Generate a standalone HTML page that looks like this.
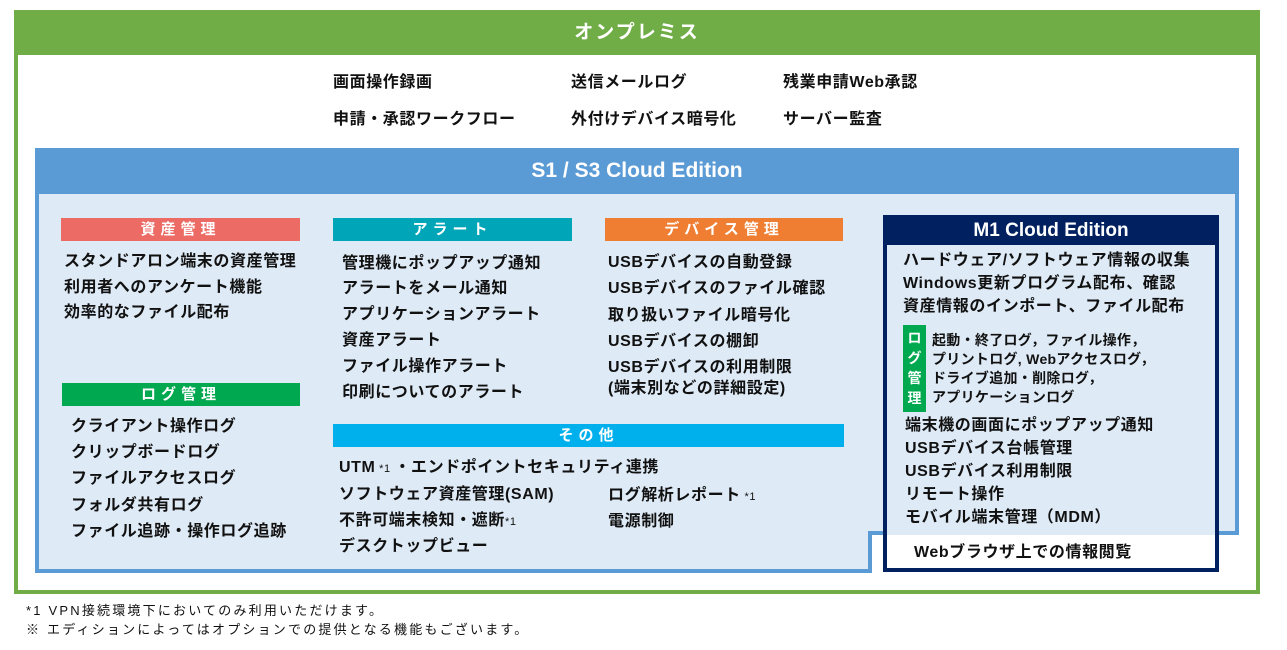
<!DOCTYPE html>
<html><head><meta charset="utf-8"><style>
*{margin:0;padding:0;box-sizing:border-box}
body{width:1287px;height:650px;background:#fff;position:relative;overflow:hidden;font-family:"Liberation Sans","Noto Sans CJK JP",sans-serif;color:#111}
.a{position:absolute;white-space:nowrap}
.t{position:absolute;white-space:nowrap;font-size:16px;font-weight:bold;line-height:26px;letter-spacing:0.6px}
.h{position:absolute;color:#fff;font-weight:bold;font-size:15px;text-align:center;line-height:23px;height:23px;letter-spacing:5px}
</style></head><body>
<div class="a" style="left:14px;top:10px;width:1246px;height:584px;border:4px solid #70ad47"></div>
<div class="a" style="left:14px;top:10px;width:1246px;height:45px;background:#70ad47;color:#fff;font-weight:bold;font-size:19px;text-align:center;line-height:45px;letter-spacing:2px">オンプレミス</div>
<div class="t" style="left:333px;top:70px">画面操作録画</div>
<div class="t" style="left:571px;top:70px">送信メールログ</div>
<div class="t" style="left:783px;top:70px">残業申請Web承認</div>
<div class="t" style="left:333px;top:107px">申請・承認ワークフロー</div>
<div class="t" style="left:571px;top:107px">外付けデバイス暗号化</div>
<div class="t" style="left:783px;top:107px">サーバー監査</div>
<svg class="a" style="left:0;top:0" width="1287" height="650">
<polygon points="37,150 1237,150 1237,533 870,533 870,571 37,571" fill="#deeaf6" stroke="#5b9bd5" stroke-width="4"/>
<rect x="35" y="148" width="1204" height="46" fill="#5b9bd5"/>
<rect x="885" y="217" width="332" height="353" fill="#deeaf6" stroke="#002060" stroke-width="4"/>
<rect x="887" y="535" width="328" height="33" fill="#fff"/>
<line x1="868" y1="533" x2="883" y2="533" stroke="#5b9bd5" stroke-width="4"/>
<line x1="1219" y1="533" x2="1239" y2="533" stroke="#5b9bd5" stroke-width="4"/>
<rect x="883" y="215" width="336" height="30" fill="#002060"/>
</svg>
<div class="a" style="left:35px;top:148px;width:1204px;height:46px;color:#fff;font-weight:bold;font-size:21px;text-align:center;line-height:46px">S1 / S3 Cloud Edition</div>
<div class="h" style="left:61px;top:218px;width:239px;background:#ec6b65">資産管理</div>
<div class="t" style="left:64px;top:249px">スタンドアロン端末の資産管理</div>
<div class="t" style="left:64px;top:275px">利用者へのアンケート機能</div>
<div class="t" style="left:64px;top:300px">効率的なファイル配布</div>
<div class="h" style="left:62px;top:383px;width:238px;background:#00a84f">ログ管理</div>
<div class="t" style="left:71px;top:414px">クライアント操作ログ</div>
<div class="t" style="left:71px;top:440px">クリップボードログ</div>
<div class="t" style="left:71px;top:466px">ファイルアクセスログ</div>
<div class="t" style="left:71px;top:493px">フォルダ共有ログ</div>
<div class="t" style="left:71px;top:519px">ファイル追跡・操作ログ追跡</div>
<div class="h" style="left:333px;top:218px;width:239px;background:#00a5b8">アラート</div>
<div class="t" style="left:342px;top:251px">管理機にポップアップ通知</div>
<div class="t" style="left:342px;top:276px">アラートをメール通知</div>
<div class="t" style="left:342px;top:302px">アプリケーションアラート</div>
<div class="t" style="left:342px;top:328px">資産アラート</div>
<div class="t" style="left:342px;top:354px">ファイル操作アラート</div>
<div class="t" style="left:342px;top:380px">印刷についてのアラート</div>
<div class="h" style="left:605px;top:218px;width:238px;background:#ef7d32">デバイス管理</div>
<div class="t" style="left:608px;top:250px">USBデバイスの自動登録</div>
<div class="t" style="left:608px;top:276px">USBデバイスのファイル確認</div>
<div class="t" style="left:608px;top:303px">取り扱いファイル暗号化</div>
<div class="t" style="left:608px;top:329px">USBデバイスの棚卸</div>
<div class="t" style="left:608px;top:357px;line-height:21px">USBデバイスの利用制限<br>(端末別などの詳細設定)</div>
<div class="h" style="left:333px;top:424px;width:511px;background:#00b0ec">その他</div>
<div class="t" style="left:339px;top:455px">UTM<span style="font-size:11px;font-weight:normal"> *1 </span>・エンドポイントセキュリティ連携</div>
<div class="t" style="left:339px;top:482px">ソフトウェア資産管理(SAM)</div>
<div class="t" style="left:339px;top:508px">不許可端末検知・遮断<span style="font-size:11px;font-weight:normal">*1</span></div>
<div class="t" style="left:339px;top:534px">デスクトップビュー</div>
<div class="t" style="left:608px;top:483px">ログ解析レポート<span style="font-size:11px;font-weight:normal"> *1</span></div>
<div class="t" style="left:608px;top:509px">電源制御</div>
<div class="a" style="left:883px;top:215px;width:336px;height:30px;color:#fff;font-weight:bold;font-size:19px;text-align:center;line-height:31px">M1 Cloud Edition</div>
<div class="t" style="left:903px;top:249px;line-height:23px">ハードウェア/ソフトウェア情報の収集<br>Windows更新プログラム配布、確認<br>資産情報のインポート、ファイル配布</div>
<div class="a" style="left:903px;top:325px;width:23px;height:87px;background:#00a84f;color:#fff;font-weight:bold;font-size:14px;line-height:20px;text-align:center;padding-top:3px">ロ<br>グ<br>管<br>理</div>
<div class="a" style="left:932px;top:331px;font-size:14px;font-weight:bold;line-height:19px;letter-spacing:0.3px">起動・終了ログ，ファイル操作，<br>プリントログ, Webアクセスログ，<br>ドライブ追加・削除ログ，<br>アプリケーションログ</div>
<div class="t" style="left:905px;top:414px;line-height:23px">端末機の画面にポップアップ通知<br>USBデバイス台帳管理<br>USBデバイス利用制限<br>リモート操作<br>モバイル端末管理（MDM）</div>
<div class="t" style="left:914px;top:540px">Webブラウザ上での情報閲覧</div>
<div class="a" style="left:26px;top:601px;font-size:13px;line-height:19px;letter-spacing:2.2px">*1 VPN接続環境下においてのみ利用いただけます。<br>※ エディションによってはオプションでの提供となる機能もございます。</div>
</body></html>
